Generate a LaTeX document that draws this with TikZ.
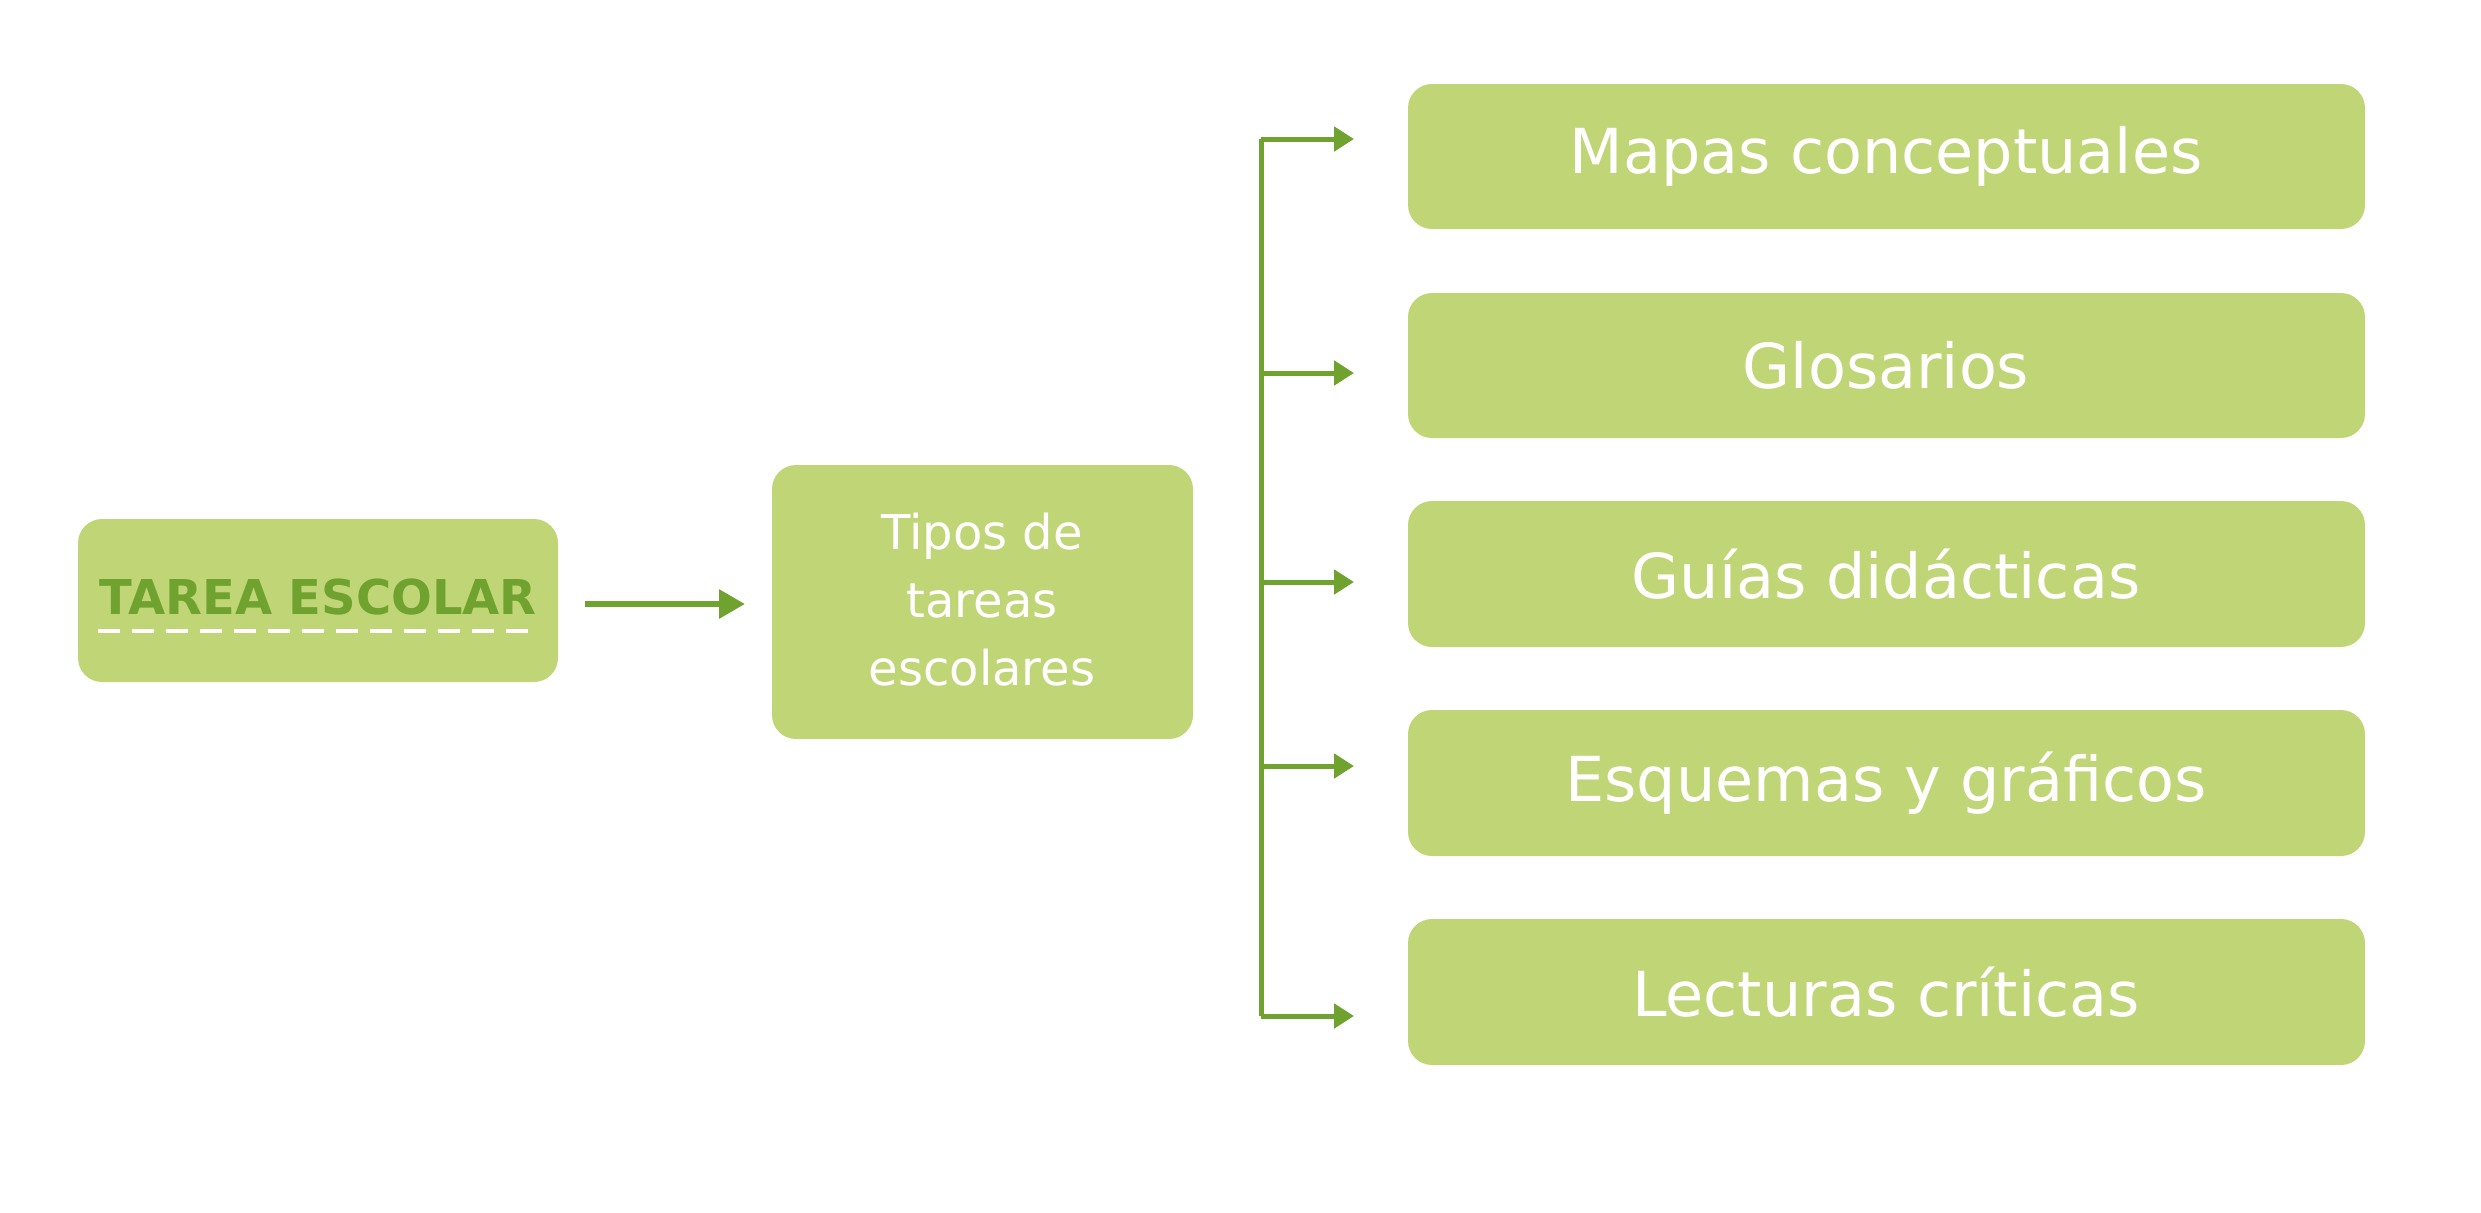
\documentclass[tikz,border=0pt]{standalone}
\usepackage{fontspec}
\setmainfont{DejaVu Sans}
\usetikzlibrary{arrows.meta}
\definecolor{boxg}{HTML}{C0D676}
\definecolor{lineg}{HTML}{6FA22E}
\begin{document}
\begin{tikzpicture}[x=0.5pt,y=-0.5pt,
  gbox/.style={fill=boxg,rounded corners=12pt},
  conn/.style={draw=lineg,line width=2.5pt,-{Triangle[length=10pt,width=12pt]}},
  lbl/.style={text=white,font=\fontsize{31}{38}\selectfont}]
\useasboundingbox (0,0) rectangle (2481,1212);
\fill[gbox] (78,519) rectangle (558,682);
\node[font=\bfseries\fontsize{24}{28}\selectfont,text=lineg] (a) at (318,597) {TAREA ESCOLAR};
\draw[white,line width=2pt,dash pattern=on 11pt off 6pt] (98,631) -- (535,631);
\coordinate (as) at (585,604);
\coordinate (ae) at (745,604);
\draw[draw=lineg,line width=3pt,-{Triangle[length=13pt,width=14pt]}] (as) -- (ae);
\fill[gbox] (772,465) rectangle (1193,739);
\node[text=white,font=\fontsize{24}{34}\selectfont,align=center] (t) at (982,600) {Tipos de\\tareas \\escolares};
\coordinate (top) at (1261,139);
\coordinate (bot) at (1261,1016);
\draw[lineg,line width=2.5pt] (top) -- (bot);
\foreach \n/\ya/\yb/\txt in {1/84/229/Mapas conceptuales,2/293/438/Glosarios,3/501/647/Guías didácticas,4/710/856/Esquemas y gráficos,5/919/1065/Lecturas críticas}{
  \fill[gbox] (1408,\ya) rectangle (2365,\yb);
  \node[lbl] (b\n) at (1886,{(\ya+\yb)/2}) {\txt};
}
\foreach \y in {139,373,582,766,1016}{
  \coordinate (s) at (1261,\y);
  \coordinate (e) at (1354,\y);
  \draw[conn] (s) -- (e);
}
\end{tikzpicture}
\end{document}
